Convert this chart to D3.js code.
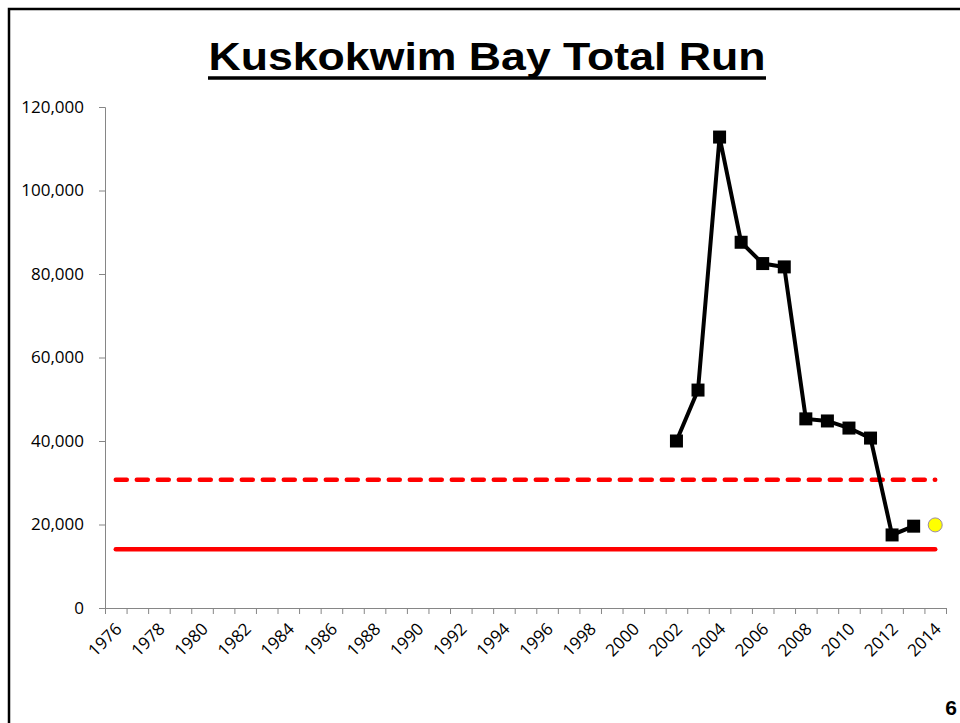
<!DOCTYPE html>
<html>
<head>
<meta charset="utf-8">
<script src="https://cdn.jsdelivr.net/npm/d3@7"></script>
<style>
  body { margin: 0; background: #fff; }
  svg { display: block; }
</style>
</head>
<body>
<div id="svg_area"></div>
<script>
// Chart data
var years = d3.range(1976, 2015);
var runYears = [2002, 2003, 2004, 2005, 2006, 2007, 2008, 2009, 2010, 2011, 2012, 2013];
var totalRun = [40000, 52200, 112800, 87600, 82500, 81700, 45300, 44800, 43100, 40700, 17500, 19600];
var forecastYear = [2014];
var forecastRun = [19900];
var upperGoal = 30700;
var lowerGoal = 14100;
var yTicks = [0, 20000, 40000, 60000, 80000, 100000, 120000];

var svgWidth = 960;
var svgHeight = 723;

var margin = { top: 107, right: 14, bottom: 115, left: 105 };
var chartWidth = svgWidth - margin.left - margin.right;
var chartHeight = svgHeight - margin.top - margin.bottom;

var svg = d3.select("#svg_area")
  .append("svg")
  .attr("width", svgWidth)
  .attr("height", svgHeight);

// slide frame
svg.append("rect")
  .attr("x", 9)
  .attr("y", 9)
  .attr("width", 1000)
  .attr("height", 1000)
  .attr("fill", "none")
  .attr("stroke", "#000")
  .attr("stroke-width", 2.5);

// title
svg.append("text")
  .attr("x", 487)
  .attr("y", 70)
  .attr("text-anchor", "middle")
  .attr("font-family", "'Liberation Sans', Arial, sans-serif")
  .attr("font-weight", "bold")
  .attr("font-size", "39px")
  .attr("textLength", 557)
  .attr("lengthAdjust", "spacingAndGlyphs")
  .attr("fill", "#000")
  .text("Kuskokwim Bay Total Run");

svg.append("line")
  .attr("x1", 208)
  .attr("x2", 766)
  .attr("y1", 78)
  .attr("y2", 78)
  .attr("stroke", "#000")
  .attr("stroke-width", 3.5);

var chartGroup = svg.append("g")
  .attr("transform", `translate(${margin.left}, ${margin.top})`);

// scales
var xBand = d3.scaleBand()
  .domain(years)
  .range([0, chartWidth])
  .padding(0);

var xEdge = d3.scaleLinear()
  .domain([0, years.length])
  .range([0, chartWidth]);

var yLinearScale = d3.scaleLinear()
  .domain([0, 120000])
  .range([chartHeight, 0]);

var xc = d => xBand(d) + xBand.bandwidth() / 2;

var axisFont = "'Open Sans', 'Liberation Sans', sans-serif";

// y axis
var leftAxis = d3.axisLeft(yLinearScale)
  .tickValues(yTicks)
  .tickSize(6)
  .tickPadding(15)
  .tickFormat(d3.format(","));

var yAxisG = chartGroup.append("g").call(leftAxis);
yAxisG.select(".domain").attr("stroke", "#868686");
yAxisG.selectAll(".tick line").attr("stroke", "#868686");
yAxisG.selectAll("text")
  .attr("font-family", axisFont)
  .attr("font-size", "17px")
  .attr("fill", "#000");

// x axis: tick marks at category edges
var edgeAxis = d3.axisBottom(xEdge)
  .tickValues(d3.range(0, years.length + 1))
  .tickSize(6)
  .tickFormat("");

var xEdgeG = chartGroup.append("g")
  .attr("transform", `translate(0, ${chartHeight})`)
  .call(edgeAxis);
xEdgeG.select(".domain").attr("stroke", "#868686");
xEdgeG.selectAll(".tick line").attr("stroke", "#868686");

// x axis labels every other year
var bottomAxis = d3.axisBottom(xBand)
  .tickValues(years.filter(y => y % 2 === 0))
  .tickSize(0)
  .tickFormat(d => String(d));

var xLabG = chartGroup.append("g")
  .attr("transform", `translate(0, ${chartHeight})`)
  .call(bottomAxis);
xLabG.select(".domain").remove();
xLabG.selectAll("text")
  .attr("font-family", axisFont)
  .attr("font-size", "17px")
  .attr("fill", "#000")
  .attr("text-anchor", "end")
  .attr("dy", null)
  .attr("y", 0)
  .attr("transform", "translate(7, 22) rotate(-45)");

// goal lines
chartGroup.append("line")
  .attr("x1", xc(years[0]))
  .attr("x2", xc(years[years.length - 1]))
  .attr("y1", yLinearScale(upperGoal))
  .attr("y2", yLinearScale(upperGoal))
  .attr("stroke", "#ff0000")
  .attr("stroke-width", 4.5)
  .attr("stroke-dasharray", "11,10")
  .attr("stroke-linecap", "round");

chartGroup.append("line")
  .attr("x1", xc(years[0]))
  .attr("x2", xc(years[years.length - 1]))
  .attr("y1", yLinearScale(lowerGoal))
  .attr("y2", yLinearScale(lowerGoal))
  .attr("stroke", "#ff0000")
  .attr("stroke-width", 4.5)
  .attr("stroke-linecap", "round");

// total run line
var runData = runYears.map((y, i) => ({ year: y, v: totalRun[i] }));

var runLine = d3.line()
  .x(d => xc(d.year))
  .y(d => yLinearScale(d.v));

chartGroup.append("path")
  .datum(runData)
  .attr("d", runLine)
  .attr("fill", "none")
  .attr("stroke", "#000")
  .attr("stroke-width", 4);

chartGroup.selectAll(".marker")
  .data(runData)
  .enter()
  .append("rect")
  .attr("class", "marker")
  .attr("x", d => xc(d.year) - 6.5)
  .attr("y", d => yLinearScale(d.v) - 6.5)
  .attr("width", 13)
  .attr("height", 13)
  .attr("fill", "#000");

// forecast point
chartGroup.selectAll(".forecast")
  .data(forecastYear.map((y, i) => ({ year: y, v: forecastRun[i] })))
  .enter()
  .append("circle")
  .attr("class", "forecast")
  .attr("cx", d => xc(d.year))
  .attr("cy", d => yLinearScale(d.v))
  .attr("r", 7)
  .attr("fill", "#ffff00")
  .attr("stroke", "#9c8aa0")
  .attr("stroke-width", 1);

// page number
svg.append("text")
  .attr("x", 957)
  .attr("y", 715)
  .attr("text-anchor", "end")
  .attr("font-family", "'Liberation Sans', Arial, sans-serif")
  .attr("font-weight", "bold")
  .attr("font-size", "21px")
  .attr("fill", "#000")
  .text("6");
</script>
</body>
</html>
